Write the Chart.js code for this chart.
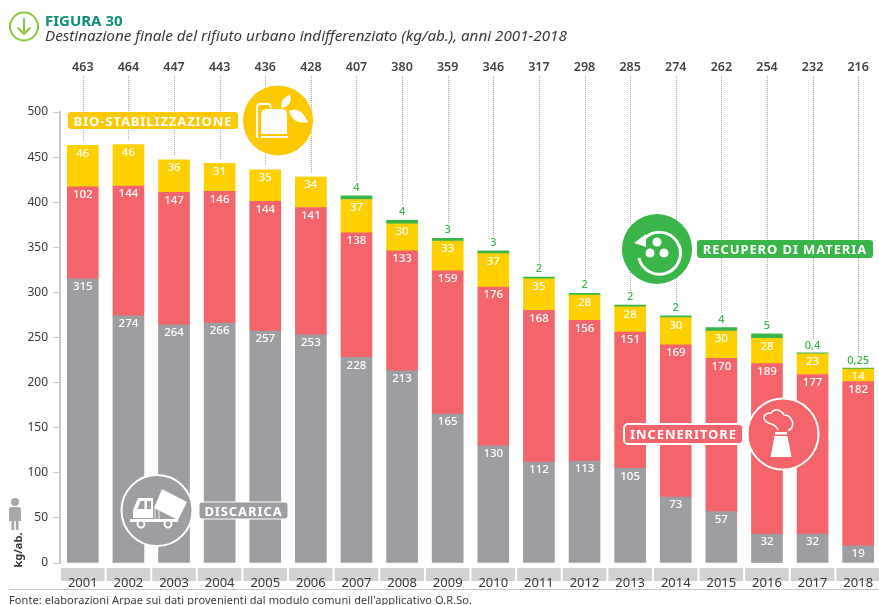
<!DOCTYPE html>
<html lang="it">
<head>
<meta charset="utf-8">
<title>Figura 30</title>
<script src="https://cdn.jsdelivr.net/npm/chart.js@4/dist/chart.umd.min.js"></script>
<style>
    html, body { margin: 0; padding: 0; background: #fff; overflow: hidden; }
    #page { position: relative; width: 879px; height: 605px; overflow: hidden; font-family: "Noto Sans", sans-serif; }
    #chartBox { position: absolute; left: 0; top: 0; width: 881px; height: 605px; }
    #overlay { position: absolute; left: 0; top: 0; }
    #overlay text { font-family: "Noto Sans", sans-serif; font-weight: 700; fill: #fff; text-anchor: middle; dominant-baseline: central; }
    .figure { position: absolute; left: 45px; top: 10px; font-size: 15px; font-weight: 700; color: #0e8f78; }
    .subtitle { position: absolute; left: 45px; top: 25px; font-size: 15.2px; font-style: italic; color: #3a3a3c; white-space: nowrap; }
    .rule { position: absolute; left: 9px; right: 0; top: 589px; height: 1px; background: #c8c8c8; }
    .source { position: absolute; left: 9px; top: 592px; font-size: 11px; letter-spacing: 0.08px; color: #3a3a3c; white-space: nowrap; }
</style>
</head>
<body>
<div id="page">
    <div id="chartBox"><canvas id="wasteChart"></canvas></div>
    <div class="figure">FIGURA 30</div>
    <div class="subtitle">Destinazione finale del rifiuto urbano indifferenziato (kg/ab.), anni 2001-2018</div>
    <div class="rule"></div>
    <div class="source">Fonte: elaborazioni Arpae sui dati provenienti dal modulo comuni dell'applicativo O.R.So.</div>
    <svg id="overlay" width="879" height="605" viewBox="0 0 879 605">
        <!-- header arrow -->
        <circle cx="24" cy="26.5" r="14" fill="none" stroke="#8cc63f" stroke-width="2"/>
        <path d="M24 18v16M17.5 27.5l6.5 6.5 6.5-6.5" fill="none" stroke="#8cc63f" stroke-width="2"/>

        <!-- person, kg/ab. -->
        <circle cx="15" cy="502" r="4" fill="#a7a8aa"/>
        <path d="M9 510q0-3 3-3h6q3 0 3 3v11h-2.5v9h-2.7v-9h-1.6v9h-2.7v-9H9z" fill="#a7a8aa"/>
        <text transform="translate(17 550) rotate(-90)" style="font-size:11px;fill:#3a3a3c">kg/ab.</text>

        <!-- bio-stabilizzazione -->
        <rect x="68" y="112" width="170" height="17" rx="3" fill="#fcc900"/>
        <text x="153" y="120.5" style="font-size:13px;letter-spacing:0.9px">BIO-STABILIZZAZIONE</text>
        <circle cx="278" cy="120.5" r="35" fill="#fcc900"/>
        <path d="M257 138v-31q0-3 3-3h8q3 0 3 4" fill="none" stroke="#fff" stroke-width="2"/>
        <path d="M261 115q0-6 6-6h14q6 0 6 6v19h-26z" fill="#fff"/>
        <path d="M261 136h27v2h-27z" fill="#fff"/>
        <path d="M282 108q-3-9 8-13q3 10-8 13zM289 111q11-6 19 11q-15 3-19-11z" fill="#fff"/>

        <!-- recupero di materia -->
        <rect x="697" y="240" width="176" height="18" rx="3" fill="#39b54a"/>
        <text x="785" y="249" style="font-size:13px;letter-spacing:0.9px">RECUPERO DI MATERIA</text>
        <circle cx="657" cy="249" r="35" fill="#39b54a"/>
        <path d="M645 238a21 21 0 1 1-6 20" fill="none" stroke="#fff" stroke-width="3"/>
        <path d="M634 243l12-9 0 13z" fill="#fff"/>
        <circle cx="657" cy="242" r="4.5" fill="#fff"/><circle cx="650" cy="253" r="4.5" fill="#fff"/><circle cx="664" cy="253" r="4.5" fill="#fff"/>

        <!-- discarica -->
        <rect x="199" y="502" width="89" height="17" rx="3" fill="#9d9ea2" stroke="#fff" stroke-width="1"/>
        <text x="243.5" y="510.5" style="font-size:13px;letter-spacing:0.9px">DISCARICA</text>
        <circle cx="157" cy="510.5" r="35.5" fill="#9d9ea2" stroke="#fff" stroke-width="2"/>
        <path d="M133 518v-8l5-12h15v20z" fill="#fff"/>
        <path d="M137.5 509l3-8h4v8zM147 501h4v8h-4z" fill="#9d9ea2"/>
        <path d="M130 519h48v3h-48z" fill="#fff"/>
        <path d="M155 508v11M159 510v9" stroke="#d1d2d4" stroke-width="1.5"/>
        <path d="M162 489l25 13-9 18-24-12z" fill="#fff"/>
        <circle cx="141" cy="524" r="3.5" fill="#9d9ea2" stroke="#fff" stroke-width="2"/>
        <circle cx="168" cy="524" r="3.5" fill="#9d9ea2" stroke="#fff" stroke-width="2"/>

        <!-- inceneritore -->
        <rect x="624" y="424" width="119" height="20" rx="4" fill="#f4656b" stroke="#fff" stroke-width="2"/>
        <text x="683.5" y="434" style="font-size:13px;letter-spacing:0.9px">INCENERITORE</text>
        <circle cx="783" cy="434" r="35.5" fill="#f4656b" stroke="#fff" stroke-width="2"/>
        <path d="M778 430q-2-5-7-6-8-3-7-7 1-4 7-4 3-4 7-3 4 1 6 5 5 0 7 4 3 4 1 8-1 3-4 3" fill="none" stroke="#fff" stroke-width="1.6"/>
        <path d="M775 432h12v2.5h-12zM774.5 436h13l4 21h-21z" fill="#fff"/>
    </svg>
</div>

<script>
// Destinazione finale del rifiuto urbano indifferenziato (kg/ab.)
const years = ['2001', '2002', '2003', '2004', '2005', '2006', '2007', '2008', '2009',
    '2010', '2011', '2012', '2013', '2014', '2015', '2016', '2017', '2018'];
const discarica = [315, 274, 264, 266, 257, 253, 228, 213, 165, 130, 112, 113, 105, 73, 57, 32, 32, 19];
const inceneritore = [102, 144, 147, 146, 144, 141, 138, 133, 159, 176, 168, 156, 151, 169, 170, 189, 177, 182];
const bioStabilizzazione = [46, 46, 36, 31, 35, 34, 37, 30, 33, 37, 35, 28, 28, 30, 30, 28, 23, 14];
const recuperoMateria = [null, null, null, null, null, null, 4, 4, 3, 3, 2, 2, 2, 2, 4, 5, 0.4, 0.25];
const totals = [463, 464, 447, 443, 436, 428, 407, 380, 359, 346, 317, 298, 285, 274, 262, 254, 232, 216];
const yTicks = [0, 50, 100, 150, 200, 250, 300, 350, 400, 450, 500];

const GRAY = '#9d9ea2';
const RED = '#f4656b';
const YELLOW = '#ffd000';
const GREEN = '#39b54a';
const FONT = '"Noto Sans", sans-serif';

// Grey boxes behind the year labels
const yearBoxes = {
    id: 'yearBoxes',
    beforeDraw(chart) {
        const { ctx, scales: { x } } = chart;
        const step = x.getPixelForValue(1) - x.getPixelForValue(0);
        ctx.save();
        ctx.fillStyle = '#d1d2d4';
        years.forEach((_, i) => {
            const cx = x.getPixelForValue(i);
            ctx.fillRect(cx - step / 2 + 1, 568, step - 2, 13);
        });
        ctx.restore();
    }
};

// Leader lines, totals and the value labels on the bars
const barLabels = {
    id: 'barLabels',
    afterDatasetsDraw(chart) {
        const { ctx, scales: { x, y } } = chart;
        ctx.save();
        ctx.textAlign = 'center';
        ctx.textBaseline = 'middle';

        years.forEach((year, i) => {
            const cx = x.getPixelForValue(i);
            const sum = discarica[i] + inceneritore[i] + bioStabilizzazione[i] + (recuperoMateria[i] || 0);
            const top = y.getPixelForValue(sum);
            const hasGreen = recuperoMateria[i] !== null;

            ctx.strokeStyle = '#a8a9ab';
            ctx.lineWidth = 1;
            ctx.setLineDash([1, 1]);
            ctx.beginPath();
            ctx.moveTo(Math.round(cx) + 0.5, 76);
            ctx.lineTo(Math.round(cx) + 0.5, top - (hasGreen ? 14 : 4));
            ctx.stroke();
            ctx.setLineDash([]);

            ctx.font = '600 12.5px ' + FONT;
            ctx.fillStyle = '#444446';
            ctx.fillText(totals[i], cx, 67);

            if (hasGreen) {
                ctx.font = '500 11px ' + FONT;
                ctx.fillStyle = GREEN;
                ctx.fillText(String(recuperoMateria[i]).replace('.', ','), cx, top - 8);
            }

            ctx.font = '500 11.5px ' + FONT;
            ctx.fillStyle = '#fff';
            let level = 0;
            [discarica, inceneritore, bioStabilizzazione].forEach(series => {
                level += series[i];
                ctx.fillText(series[i], cx, y.getPixelForValue(level) + 8);
            });
        });
        ctx.restore();
    }
};

function makeDataset(label, data, color) {
    return { label, data, backgroundColor: color, barThickness: 31, stack: 'waste', minBarLength: label === 'Recupero di materia' ? 1 : 0 };
}

new Chart(document.getElementById('wasteChart'), {
    type: 'bar',
    data: {
        labels: years,
        datasets: [
            makeDataset('Discarica', discarica, GRAY),
            makeDataset('Inceneritore', inceneritore, RED),
            makeDataset('Bio-stabilizzazione', bioStabilizzazione, YELLOW),
            makeDataset('Recupero di materia', recuperoMateria, GREEN)
        ]
    },
    options: {
        responsive: true,
        maintainAspectRatio: false,
        animation: false,
        layout: { padding: { top: 112, right: 0, bottom: 0, left: 0 } },
        plugins: { legend: { display: false }, tooltip: { enabled: false } },
        scales: {
            x: {
                stacked: true,
                grid: { display: false },
                border: { display: false },
                ticks: { color: '#3a3a3c', font: { family: FONT, size: 13 }, padding: 4, maxRotation: 0, autoSkip: false },
                afterFit(scale) { scale.height = 42; }
            },
            y: {
                stacked: true,
                min: 0,
                max: 500,
                afterFit(scale) { scale.width = 60; },
                afterBuildTicks(scale) { scale.ticks = yTicks.map(value => ({ value })); },
                grid: { drawOnChartArea: false, color: '#c8c8c8', tickLength: 7, lineWidth: 1 },
                border: { color: '#c8c8c8', width: 2 },
                ticks: { color: '#3a3a3c', font: { family: FONT, size: 12 }, padding: 5 }
            }
        }
    },
    plugins: [yearBoxes, barLabels]
});
</script>
</body>
</html>
